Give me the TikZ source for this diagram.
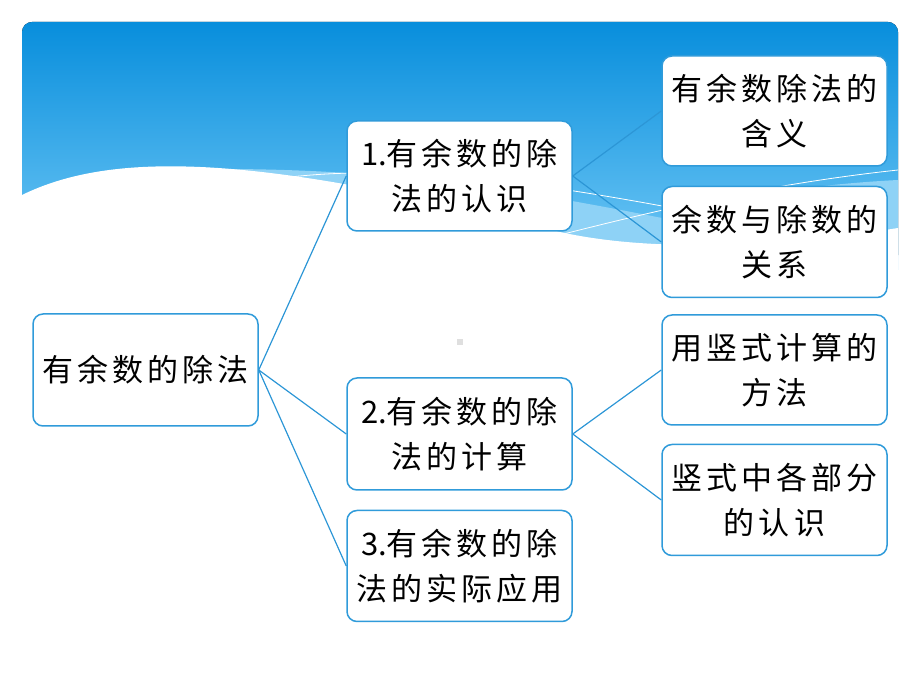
\documentclass[tikz,border=0pt]{standalone}
\usepackage{fontspec}
\setmainfont{Noto Sans CJK SC}[LetterSpace=13]
\newfontfamily\numfont{Noto Sans CJK SC}
\usepackage{tikz}
\usetikzlibrary{positioning}
\tikzstyle{topic} = [rectangle, rounded corners=10pt, minimum width=225pt, minimum height=111pt, draw=boxblue, line width=1.5pt, fill=white, align=center, inner sep=2pt, font=\fontsize{31}{45}\selectfont]
\tikzstyle{link} = [draw=lineblue, line width=1.2pt]
\tikzstyle{wave} = [white, line width=0.8pt]
\definecolor{boxblue}{RGB}{48,155,218}
\definecolor{lineblue}{RGB}{44,150,214}
\definecolor{banddark}{RGB}{8,142,220}
\definecolor{bandlight}{RGB}{112,200,246}
\definecolor{bandpale}{RGB}{142,210,246}
\newcommand{\num}[1]{{\numfont #1}}

\begin{document}
\begin{tikzpicture}[x=1pt,y=1pt]
\useasboundingbox (0,0) rectangle (920,690);
% header band
\fill[top color=banddark, bottom color=bandlight, rounded corners=10pt] (22,425) rectangle (898,668);
\fill[bandpale] (230,521) .. controls (400,520) and (520,500) .. (662,472)
  .. controls (720,490) and (800,505) .. (898,510) -- (898,420) -- (230,420) -- cycle;
\fill[white] (22,495) .. controls (110,538) and (250,538) .. (560,458)
  .. controls (640,440) and (760,440) .. (898,462) -- (898,415) -- (22,415) -- cycle;
\draw[wave] (290,513) .. controls (400,525) and (520,510) .. (662,484) .. controls (690,478) .. (720,470);
\draw[wave] (540,450) .. controls (650,478) and (760,505) .. (898,520);
\fill[gray!25] (457,345) rectangle (463,351);

% nodes
\node (root) [topic, minimum height=112pt] at (145.5,320) {有余数的除法};
\node (n1) [topic, minimum height=110pt] at (459.5,514) {\num{1.}有余数的除\\法的认识};
\node (n2) [topic, minimum height=112pt] at (459.5,256) {\num{2.}有余数的除\\法的计算};
\node (n3) [topic, below=19pt of n2] {\num{3.}有余数的除\\法的实际应用};
\node (mean) [topic, minimum height=110pt] at (774.5,579) {有余数除法的\\含义};
\node (rel) [topic, below=19pt of mean] {余数与除数的\\关系};
\node (way) [topic, minimum height=110pt] at (774.5,320) {用竖式计算的\\方法};
\node (part) [topic, below=18pt of way] {竖式中各部分\\的认识};

% connectors
\draw[link] (root.east) -- (n1.west);
\draw[link] (root.east) -- (n2.west);
\draw[link] (root.east) -- (n3.west);
\draw[link] (n1.east) -- (mean.west);
\draw[link] (n1.east) -- (rel.west);
\draw[link] (n2.east) -- (way.west);
\draw[link] (n2.east) -- (part.west);
\end{tikzpicture}
\end{document}
